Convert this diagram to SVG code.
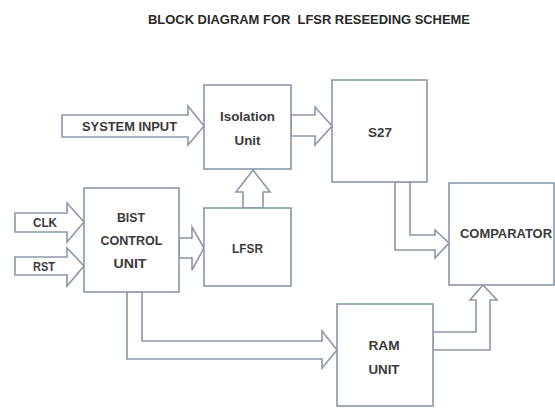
<svg xmlns="http://www.w3.org/2000/svg" width="555" height="408" viewBox="0 0 555 408">
<style>
.box{fill:#ffffff;stroke:#8b97a8;stroke-width:1.6}
.arr{fill:#ffffff;stroke:#8b97a8;stroke-width:1.6;stroke-linejoin:miter}
.t{font-family:"Liberation Sans",Arial,sans-serif;font-weight:bold;font-size:13px;fill:#3a3a3a;text-anchor:middle}
.title{font-family:"Liberation Sans",Arial,sans-serif;font-weight:bold;font-size:13px;fill:#2a2a2a;text-anchor:middle}
</style>
<rect width="555" height="408" fill="#ffffff"/>
<text class="title" x="309" y="24" textLength="322" lengthAdjust="spacingAndGlyphs" xml:space="preserve">BLOCK DIAGRAM FOR  LFSR RESEEDING SCHEME</text>
<g id="connectors">
<polygon class="arr" points="62,115 188,115 188,106 204,126 188,145 188,137 62,137"/>
<polygon class="arr" points="291,115 315,115 315,107 332,126 315,145 315,136 291,136"/>
<polygon class="arr" points="15,213 67,213 67,203 84,222 67,242 67,232 15,232"/>
<polygon class="arr" points="15,257 67,257 67,248 84,266 67,286 67,275 15,275"/>
<polygon class="arr" points="179,238 192,238 192,227 204,248 192,270 192,258 179,258"/>
<polygon class="arr" points="243,208 243,192 236,192 253,170 270,192 263,192 263,208"/>
<polygon class="arr" points="395,182 395,250 435,250 435,258 449,243 435,230 435,235 410,235 410,182"/>
<polygon class="arr" points="127,292 127,359 322,359 322,368 337,350 322,331 322,341 142,341 142,292"/>
<polygon class="arr" points="433,332 476,332 476,300 470,300 483,285 497,300 490,300 490,350 433,350"/>
</g>
<g id="system-input">
<text class="t" x="129.5" y="131" textLength="95" lengthAdjust="spacingAndGlyphs">SYSTEM INPUT</text>
</g>
<g id="clk">
<text class="t" x="45" y="227" textLength="24" lengthAdjust="spacingAndGlyphs">CLK</text>
</g>
<g id="rst">
<text class="t" x="44" y="271" textLength="22" lengthAdjust="spacingAndGlyphs">RST</text>
</g>
<g id="isolation-unit">
<rect class="box" x="204" y="85" width="87" height="84"/>
<text class="t" x="247.5" y="121" textLength="55" lengthAdjust="spacingAndGlyphs">Isolation</text>
<text class="t" x="247.5" y="145" textLength="26" lengthAdjust="spacingAndGlyphs">Unit</text>
</g>
<g id="s27">
<rect class="box" x="332" y="80" width="95" height="102"/>
<text class="t" x="380" y="137" textLength="24" lengthAdjust="spacingAndGlyphs">S27</text>
</g>
<g id="bist">
<rect class="box" x="84" y="188" width="95" height="104"/>
<text class="t" x="131" y="222" textLength="28" lengthAdjust="spacingAndGlyphs">BIST</text>
<text class="t" x="131.5" y="245" textLength="62" lengthAdjust="spacingAndGlyphs">CONTROL</text>
<text class="t" x="130" y="268" textLength="33" lengthAdjust="spacingAndGlyphs">UNIT</text>
</g>
<g id="lfsr">
<rect class="box" x="204" y="208" width="87" height="78"/>
<text class="t" x="247.5" y="253" textLength="31" lengthAdjust="spacingAndGlyphs">LFSR</text>
</g>
<g id="comparator">
<rect class="box" x="449" y="183" width="105" height="102"/>
<text class="t" x="506" y="238" textLength="92" lengthAdjust="spacingAndGlyphs">COMPARATOR</text>
</g>
<g id="ram-unit">
<rect class="box" x="337" y="304" width="96" height="102"/>
<text class="t" x="384" y="350" textLength="31" lengthAdjust="spacingAndGlyphs">RAM</text>
<text class="t" x="384" y="374" textLength="31" lengthAdjust="spacingAndGlyphs">UNIT</text>
</g>
</svg>
